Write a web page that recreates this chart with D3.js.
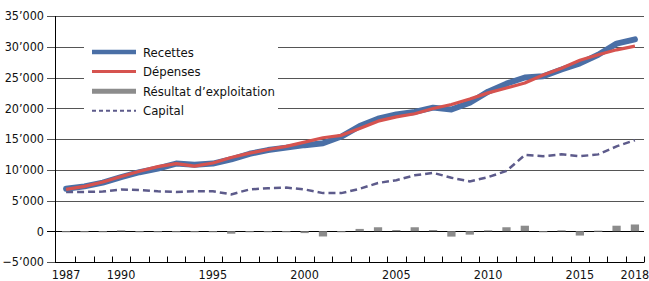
<!DOCTYPE html>
<html>
<head>
<meta charset="utf-8">
<script src="https://cdn.jsdelivr.net/npm/d3@7"></script>
<style>
  html, body { margin: 0; padding: 0; background: #fff; }
  svg { display: block; }
  text { font-family: "Liberation Sans Narrow", "DejaVu Sans Condensed", "Roboto", sans-serif; fill: #111; }
</style>
</head>
<body>
<div id="chart"></div>
<script>
// values in thousands of CHF
const years = d3.range(1987, 2019);
const recettes = [6.9, 7.3, 7.9, 8.8, 9.6, 10.2, 11.0, 10.8, 11.0, 11.7, 12.6, 13.2, 13.6, 14.0, 14.3, 15.4,
  17.1, 18.3, 19.0, 19.4, 20.1, 19.8, 20.9, 22.7, 24.0, 25.0, 25.2, 26.3, 27.3, 28.7, 30.5, 31.2];
const depenses = [6.8, 7.3, 8.0, 8.9, 9.75, 10.5, 11.0, 10.6, 11.1, 12.0, 12.7, 13.3, 13.8, 14.5, 15.2, 15.6,
  16.7, 17.9, 18.6, 19.1, 19.95, 20.6, 21.5, 22.5, 23.3, 24.1, 25.4, 26.5, 27.8, 28.7, 29.5, 30.1];
const resultat = [-0.1, -0.1, 0, 0.15, 0, -0.1, -0.1, 0, -0.1, -0.4, 0, 0, 0, -0.3, -0.85, -0.1,
  0.38, 0.65, 0.2, 0.65, 0.2, -0.87, -0.55, 0.15, 0.65, 0.9, -0.15, 0.15, -0.7, 0.1, 0.9, 1.1];
const capital = [6.4, 6.4, 6.45, 6.8, 6.7, 6.5, 6.4, 6.5, 6.5, 6.0, 6.8, 7.0, 7.1, 6.8, 6.2, 6.2,
  6.9, 7.85, 8.3, 9.1, 9.5, 8.7, 8.1, 8.8, 9.8, 12.4, 12.2, 12.5, 12.2, 12.5, 13.8, 14.8];
const yTicks = [-5, 0, 5, 10, 15, 20, 25, 30, 35];
const xLabels = [1987, 1990, 1995, 2000, 2005, 2010, 2015, 2018];

const legendItems = [
  { label: "Recettes", color: "#4a6fa6", width: 4.5, dash: null },
  { label: "Dépenses", color: "#d6534f", width: 3, dash: null },
  { label: "Résultat d’exploitation", color: "#8c8c8c", width: 5, dash: null },
  { label: "Capital", color: "#5d5b8b", width: 2, dash: "4,3" }
];

const width = 649, height = 281;
const margin = { top: 16, right: 5, bottom: 19, left: 55 };

const svg = d3.select("#chart").append("svg")
  .attr("width", width).attr("height", height);

const x = d3.scaleBand()
  .domain(years)
  .range([57, 644])
  .paddingInner(0.55)
  .paddingOuter(0.27);

const xc = (yr) => x(yr) + x.bandwidth() / 2;

const y = d3.scaleLinear()
  .domain([-5, 35])
  .range([height - margin.bottom, margin.top]);

const fmt = (v) => d3.format(",")(v * 1000).replace(/,/g, "’");

// gridlines + left ticks
svg.append("g")
  .selectAll("line")
  .data(yTicks)
  .join("line")
  .attr("x1", 47).attr("x2", 644)
  .attr("y1", (d) => Math.round(y(d)) + 0.5)
  .attr("y2", (d) => Math.round(y(d)) + 0.5)
  .attr("stroke", (d) => (d === 0 ? "#000" : "#555"))
  .attr("stroke-width", 1);

// y labels
svg.append("g")
  .selectAll("text")
  .data(yTicks)
  .join("text")
  .attr("x", 44)
  .attr("y", (d) => y(d))
  .attr("dy", "0.35em")
  .attr("text-anchor", "end")
  .style("font-size", "12.5px")
  .text(fmt);

// y axis line
svg.append("line")
  .attr("x1", 55.5).attr("x2", 55.5)
  .attr("y1", y(35)).attr("y2", y(-5))
  .attr("stroke", "#000");

// x axis line + inward ticks
const xb = Math.round(y(-5)) + 0.5;
svg.append("line")
  .attr("x1", 55).attr("x2", 644)
  .attr("y1", xb).attr("y2", xb)
  .attr("stroke", "#000");

const tickPos = years.map((yr) => x(yr) + x.bandwidth() / 2 + x.step() / 2);
svg.append("g")
  .selectAll("line")
  .data(tickPos)
  .join("line")
  .attr("x1", (d) => Math.round(d) + 0.5)
  .attr("x2", (d) => Math.round(d) + 0.5)
  .attr("y1", xb - 6).attr("y2", xb)
  .attr("stroke", "#000");

svg.append("g")
  .selectAll("text")
  .data(xLabels)
  .join("text")
  .attr("x", (d) => xc(d))
  .attr("y", 279)
  .attr("text-anchor", "middle")
  .style("font-size", "12.5px")
  .text((d) => d);

// legend background (covers gridlines)
svg.append("rect")
  .attr("x", 84).attr("y", 36)
  .attr("width", 194).attr("height", 82)
  .attr("fill", "#fff");

// bars
svg.append("g")
  .selectAll("rect")
  .data(years.map((yr, i) => ({ yr, v: resultat[i] })))
  .join("rect")
  .attr("x", (d) => x(d.yr))
  .attr("width", x.bandwidth())
  .attr("y", (d) => y(Math.max(0, d.v)))
  .attr("height", (d) => Math.max(1, Math.abs(y(d.v) - y(0))))
  .attr("fill", "#8c8c8c");

const line = d3.line()
  .x((d, i) => xc(years[i]))
  .y((d) => y(d));

svg.append("path")
  .datum(capital)
  .attr("fill", "none")
  .attr("stroke", "#5d5b8b")
  .attr("stroke-width", 2.5)
  .attr("stroke-dasharray", "7,4")
  .attr("d", line);

svg.append("path")
  .datum(recettes)
  .attr("fill", "none")
  .attr("stroke", "#4a6fa6")
  .attr("stroke-width", 6)
  .attr("stroke-linecap", "round")
  .attr("stroke-linejoin", "round")
  .attr("d", line);

svg.append("path")
  .datum(depenses)
  .attr("fill", "none")
  .attr("stroke", "#d6534f")
  .attr("stroke-width", 3.2)
  .attr("stroke-linejoin", "round")
  .attr("d", line);

// legend
const lg = svg.append("g")
  .selectAll("g")
  .data(legendItems)
  .join("g")
  .attr("transform", (d, i) => `translate(0,${52 + i * 19.6})`);

lg.append("line")
  .attr("x1", 92).attr("x2", 136)
  .attr("y1", 0).attr("y2", 0)
  .attr("stroke", (d) => d.color)
  .attr("stroke-width", (d) => d.width)
  .attr("stroke-dasharray", (d) => d.dash);

lg.append("text")
  .attr("x", 143)
  .attr("y", 0)
  .attr("dy", "0.35em")
  .style("font-size", "13px")
  .text((d) => d.label);
</script>
</body>
</html>
